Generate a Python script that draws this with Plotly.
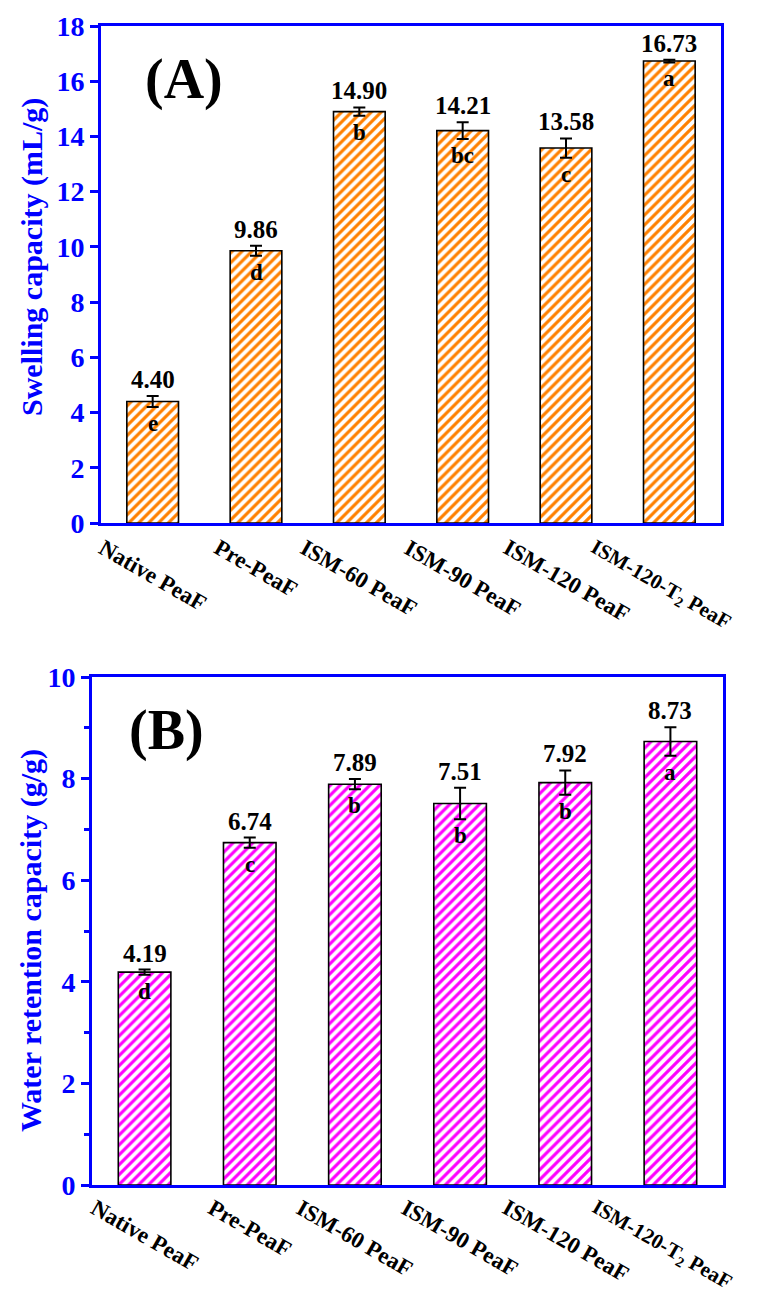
import plotly.graph_objects as go

# ---------------- data ----------------
categories = ["Native PeaF", "Pre-PeaF", "ISM-60 PeaF", "ISM-90 PeaF", "ISM-120 PeaF", "ISM-120-T2 PeaF"]
tick_labels = ["Native PeaF", "Pre-PeaF", "ISM-60 PeaF", "ISM-90 PeaF", "ISM-120 PeaF", "ISM-120-T<sub>2</sub> PeaF"]

swelling = [4.40, 9.86, 14.90, 14.21, 13.58, 16.73]
swelling_err = [0.20, 0.18, 0.15, 0.30, 0.35, 0.05]
swelling_letters = ["e", "d", "b", "bc", "c", "a"]

wrc = [4.19, 6.74, 7.89, 7.51, 7.92, 8.73]
wrc_err = [0.05, 0.10, 0.10, 0.31, 0.24, 0.28]
wrc_letters = ["d", "c", "b", "b", "b", "a"]

# ---------------- style ----------------
W, H = 759, 1295
FONT = "Liberation Serif, Times New Roman, serif"
BLUE = "#0000FF"
ORANGE = "#FF8000"
MAGENTA = "#FF00FF"

def px_x(p):
    return p / W

def px_y(p):
    return 1 - p / H

fig = go.Figure()

def add_bars(vals, errs, color, xa, ya):
    fig.add_trace(go.Bar(
        x=categories, y=vals, xaxis=xa, yaxis=ya, width=0.5,
        marker=dict(color="white", line=dict(color="black", width=1.6),
                    pattern=dict(shape="/", fgcolor=color, bgcolor="white",
                                 size=7, solidity=0.45, fillmode="replace")),
        error_y=dict(type="data", array=errs, visible=True, color="black",
                     thickness=2, width=6),
        showlegend=False, hoverinfo="skip"))

add_bars(swelling, swelling_err, ORANGE, "x", "y")
add_bars(wrc, wrc_err, MAGENTA, "x2", "y2")

annotations = []

def add_labels(vals, errs, letters, xref, yref, label_shift):
    for c, v, e, l in zip(categories, vals, errs, letters):
        annotations.append(dict(x=c, y=v + e, xref=xref, yref=yref, text=f"<b>{v:.2f}</b>",
                                showarrow=False, yanchor="bottom", xanchor="center", yshift=1,
                                font=dict(family=FONT, size=25, color="black")))
        annotations.append(dict(x=c, y=v - e, xref=xref, yref=yref, text=f"<b>{l}</b>",
                                showarrow=False, yanchor="top", xanchor="center", yshift=-2,
                                font=dict(family=FONT, size=23, color="black")))
    for i, (c, t) in enumerate(zip(categories, tick_labels)):
        last = i == len(categories) - 1
        annotations.append(dict(x=c, y=0, xref=xref, yref=yref, text=f"<b>{t}</b>",
                                showarrow=False, textangle=30, xanchor="center", yanchor="top",
                                yshift=label_shift, xshift=-9 if last else 0,
                                font=dict(family=FONT, size=23 if not last else 21, color="black")))

add_labels(swelling, swelling_err, swelling_letters, "x", "y", -9)
add_labels(wrc, wrc_err, wrc_letters, "x2", "y2", -7)

# panel letters
annotations.append(dict(x=px_x(184), y=px_y(79), xref="paper", yref="paper", text="<b>(A)</b>",
                        showarrow=False, xanchor="center", yanchor="middle",
                        font=dict(family=FONT, size=56, color="black")))
annotations.append(dict(x=px_x(166), y=px_y(730), xref="paper", yref="paper", text="<b>(B)</b>",
                        showarrow=False, xanchor="center", yanchor="middle",
                        font=dict(family=FONT, size=56, color="black")))
# y titles
annotations.append(dict(x=px_x(32), y=px_y(257), xref="paper", yref="paper",
                        text="<b>Swelling capacity (mL/g)</b>", textangle=-90,
                        showarrow=False, xanchor="center", yanchor="middle",
                        font=dict(family=FONT, size=30, color=BLUE)))
annotations.append(dict(x=px_x(31), y=px_y(941), xref="paper", yref="paper",
                        text="<b>Water retention capacity (g/g)</b>", textangle=-90,
                        showarrow=False, xanchor="center", yanchor="middle",
                        font=dict(family=FONT, size=30, color=BLUE)))

xcommon = dict(showline=True, linecolor=BLUE, linewidth=3, mirror=True, ticks="",
               showticklabels=False, showgrid=False, zeroline=False, range=[-0.5, 5.5],
               automargin=False)
ycommon = dict(showline=True, linecolor=BLUE, linewidth=3, mirror=True, ticks="outside",
               tickcolor=BLUE, tickwidth=2.5, ticklen=8, showgrid=False, zeroline=False,
               tickfont=dict(family=FONT, size=28, color=BLUE, weight="bold"),
               automargin=False)

fig.update_layout(
    width=W, height=H,
    margin=dict(l=0, r=0, t=0, b=0),
    paper_bgcolor="white", plot_bgcolor="white",
    xaxis=dict(domain=[px_x(101), px_x(721)], anchor="y", **xcommon),
    yaxis=dict(domain=[px_y(523), px_y(26)], anchor="x", range=[0, 18], dtick=2,
               tickformat="d", **ycommon),
    xaxis2=dict(domain=[px_x(92), px_x(723)], anchor="y2", **xcommon),
    yaxis2=dict(domain=[px_y(1185), px_y(677)], anchor="x2", range=[0, 10], dtick=2,
                tickformat="d",
                minor=dict(dtick=1, ticks="outside", ticklen=5, tickcolor=BLUE, tickwidth=2.5),
                **ycommon),
    annotations=annotations,
    bargap=0.5,
)

fig.write_html("out.html")
